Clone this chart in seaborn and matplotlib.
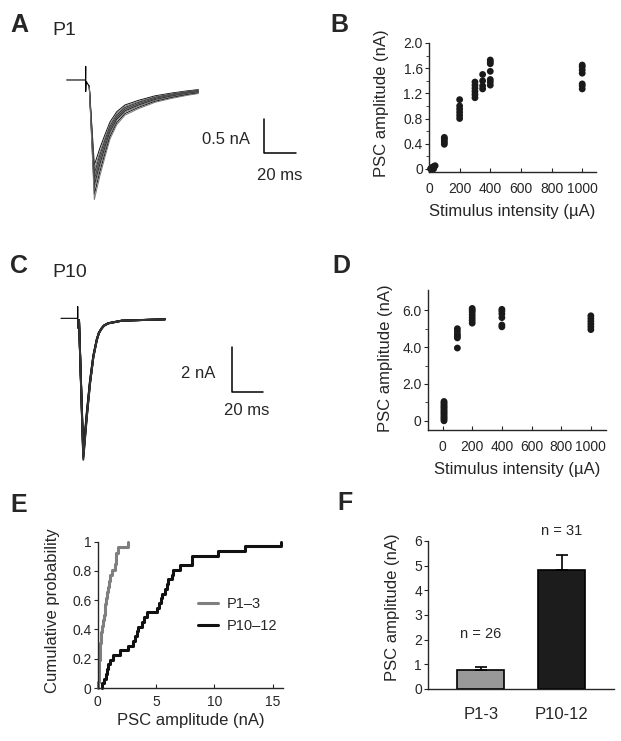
import numpy as np
import pandas as pd
import matplotlib.pyplot as plt
import seaborn as sns

sns.set_style("ticks")
plt.rcParams['font.family'] = ['Liberation Sans', 'DejaVu Sans']

# ---- A: P1 sweeps (ms, nA)
a_base_t = [-11.9, -0.1, 0.0, 0.0, 0.3, 1.6, 2.25]
a_base_i = [0.0, 0.0, 0.2, -0.17, -0.02, -0.07, -0.1]
a_resp_t = [2.25, 5.4, 8.9, 12.1, 15.2, 19.4, 24.6, 32.9, 43.3, 53.8, 64.1, 70.4]
a_resp_i = [-0.1, -1.5, -1.2, -0.96, -0.74, -0.56, -0.44, -0.36, -0.28, -0.23, -0.19, -0.17]
a_peaks = [-1.25, -1.32, -1.38, -1.42, -1.47, -1.5, -1.55, -1.6, -1.68, -1.76]

# ---- C: P10 sweeps
c_base_t = [-10.8, 0.0, 0.0, 0.0, 0.84]
c_base_i = [0.0, 0.0, 0.51, -0.44, -0.075]
c_resp_t = [0.84, 3.6, 5.8, 7.9, 10.1, 12.3, 13.7, 15.5, 17.0, 19.7, 28.4, 41.3, 56.3]
c_resp_i = [-0.075, -6.07, -4.32, -2.85, -1.68, -0.95, -0.64, -0.44, -0.32, -0.22, -0.105, -0.075, -0.044]
c_peaks = [-5.85, -5.95, -6.0, -6.07, -6.12, -6.2]

# ---- B: stimulus intensity (uA) vs PSC amplitude (nA), P1
b_x = [10, 15, 20, 25, 30, 35, 40, 20,
       100, 100, 100, 100, 100,
       200, 200, 200, 200, 200, 200,
       300, 300, 300, 300, 300, 300,
       350, 350, 350, 350,
       400, 400, 400, 400, 400, 400, 400,
       1000, 1000, 1000, 1000, 1000, 1000, 1000]
b_y = [0.0, 0.01, 0.02, 0.03, 0.0, 0.04, 0.05, 0.0,
       0.39, 0.42, 0.45, 0.48, 0.5,
       0.8, 0.85, 0.9, 0.95, 1.0, 1.1,
       1.13, 1.18, 1.23, 1.28, 1.33, 1.38,
       1.27, 1.32, 1.4, 1.5,
       1.33, 1.38, 1.42, 1.55, 1.67, 1.7, 1.73,
       1.27, 1.32, 1.35, 1.52, 1.57, 1.62, 1.65]

# ---- D: same for P10
d_x = [10] * 15 + [100] * 6 + [200] * 7 + [400] * 6 + [1000] * 6
d_y = [0.0, 0.08, 0.15, 0.22, 0.3, 0.38, 0.45, 0.52, 0.6, 0.68, 0.75, 0.82, 0.9, 0.98, 1.05,
       3.95, 4.5, 4.6, 4.7, 4.85, 5.0,
       5.3, 5.45, 5.6, 5.75, 5.9, 6.0, 6.1,
       5.1, 5.2, 5.6, 5.8, 5.95, 6.05,
       4.95, 5.1, 5.25, 5.4, 5.55, 5.7]

# ---- E: PSC amplitudes per cell (nA)
e_p1_3 = [0.05, 0.08, 0.1, 0.13, 0.15, 0.18, 0.2, 0.22, 0.26, 0.3,
          0.35, 0.45, 0.5, 0.6, 0.65, 0.7, 0.8, 0.85, 0.95, 1.05,
          1.2, 1.5, 1.55, 1.6, 1.7, 2.6]
e_p10_12 = [0.35, 0.5, 0.7, 0.8, 0.9, 1.05, 1.35, 1.9, 2.6, 3.05,
            3.2, 3.35, 3.5, 3.8, 3.95, 4.2, 5.1, 5.25, 5.4, 5.5,
            5.8, 5.95, 6.05, 6.35, 6.5, 7.05, 8.05, 8.1, 10.3, 12.6, 15.7]

# ---- F: mean +- SEM
f_groups = ['P1-3', 'P10-12']
f_means = [0.78, 4.82]
f_sems = [0.1, 0.6]
f_n = ['n = 26', 'n = 31']

W, H = 621, 741
fig = plt.figure(figsize=(W / 100, H / 100), dpi=100)


def px_axes(l, t, r, b):
    return fig.add_axes([l / W, 1 - b / H, (r - l) / W, (b - t) / H])


tick_fs = 10
lab_fs = 12

# panel letters and titles
for letter, x, y in [('A', 10, 32), ('B', 330, 32), ('C', 10, 273),
                     ('D', 332, 273), ('E', 10, 512), ('F', 337, 510)]:
    fig.text(x / W, 1 - y / H, letter, fontsize=18, fontweight='bold', va='baseline')
fig.text(52 / W, 1 - 35 / H, 'P1', fontsize=14, va='baseline')
fig.text(52 / W, 1 - 277 / H, 'P10', fontsize=14, va='baseline')

# A traces
axA = px_axes(60, 50, 310, 210)
axA.set_xlim(-16.06, 140.19)
axA.set_ylim(-1.912, 0.441)
axA.axis('off')
axA.plot(a_base_t, a_base_i, color='k', lw=0.8)
for k, pk in enumerate(a_peaks):
    sc = pk / a_resp_i[1]
    axA.plot(a_resp_t, np.array(a_resp_i) * sc, color=['#111111', '#777777'][k % 2], lw=0.7)
axA.plot([111.4, 111.4, 131.4], [-0.574, -1.074, -1.074], color='k', lw=1.1)
axA.text(102.8, -0.88, '0.5 nA', ha='right', va='center', fontsize=12)
axA.text(121.4, -1.40, '20 ms', ha='center', va='center', fontsize=12)

# C traces
axC = px_axes(55, 280, 310, 465)
axC.set_xlim(-14.65, 149.87)
axC.set_ylim(-6.43, 1.68)
axC.axis('off')
axC.plot(c_base_t, c_base_i, color='k', lw=0.8)
for k, pk in enumerate(c_peaks):
    sc = pk / c_resp_i[1]
    axC.plot(c_resp_t, np.array(c_resp_i) * sc, color=['#111111', '#333333'][k % 2], lw=1.4)
axC.plot([99.7, 99.7, 119.7], [-1.246, -3.246, -3.246], color='k', lw=1.1)
axC.text(88.6, -2.41, '2 nA', ha='right', va='center', fontsize=12)
axC.text(109, -4.02, '20 ms', ha='center', va='center', fontsize=12)


def style_axes(ax):
    sns.despine(ax=ax)
    ax.tick_params(axis='x', direction='in', length=3, pad=7, labelsize=tick_fs)
    ax.tick_params(axis='y', which='both', direction='out', length=3, pad=1.5, labelsize=tick_fs)
    ax.tick_params(axis='y', which='minor', length=2)
    for s in ['left', 'bottom']:
        ax.spines[s].set_linewidth(1.0)


# B scatter
axB = px_axes(429, 43, 596, 172)
dfB = pd.DataFrame({'stim': b_x, 'amp': b_y})
sns.scatterplot(data=dfB, x='stim', y='amp', ax=axB, color='#1a1a1a', s=24,
                edgecolor='none', clip_on=False)
axB.set_xlim(0, 1090)
axB.set_ylim(-0.05, 2.0)
axB.set_xticks([0, 200, 400, 600, 800, 1000])
axB.set_yticks([0, 0.4, 0.8, 1.2, 1.6, 2.0])
axB.set_yticklabels(['0', '0.4', '0.8', '1.2', '1.6', '2.0'])
axB.set_yticks([0.2, 0.6, 1.0, 1.4, 1.8], minor=True)
style_axes(axB)
axB.set_xlabel('Stimulus intensity (µA)', fontsize=lab_fs)
axB.set_ylabel('PSC amplitude (nA)', fontsize=lab_fs)
axB.xaxis.set_label_coords(0.5, -0.25)
axB.yaxis.set_label_coords(-0.24, 0.53)

# D scatter
axD = px_axes(427.7, 290, 605.7, 430)
dfD = pd.DataFrame({'stim': d_x, 'amp': d_y})
sns.scatterplot(data=dfD, x='stim', y='amp', ax=axD, color='#1a1a1a', s=24,
                edgecolor='none', clip_on=False)
axD.set_xlim(-100, 1100)
axD.set_ylim(-0.5, 7.1)
axD.set_xticks([0, 200, 400, 600, 800, 1000])
axD.set_yticks([0, 2, 4, 6])
axD.set_yticklabels(['0', '2.0', '4.0', '6.0'])
axD.set_yticks([1, 3, 5], minor=True)
style_axes(axD)
axD.set_xlabel('Stimulus intensity (µA)', fontsize=lab_fs)
axD.set_ylabel('PSC amplitude (nA)', fontsize=lab_fs)
axD.xaxis.set_label_coords(0.5, -0.23)
axD.yaxis.set_label_coords(-0.193, 0.51)

# E cumulative
axE = px_axes(97.7, 541.7, 283, 688)
sns.ecdfplot(x=e_p1_3, ax=axE, color='#7f7f7f', lw=2.2, label='P1–3')
sns.ecdfplot(x=e_p10_12, ax=axE, color='#111111', lw=2.2, label='P10–12')
for ln in axE.lines:
    ln.set_clip_on(False)
axE.set_xlim(0, 15.9)
axE.set_ylim(0, 1)
axE.set_xticks([0, 5, 10, 15])
axE.set_yticks([0, 0.2, 0.4, 0.6, 0.8, 1.0])
axE.set_yticklabels(['0', '0.2', '0.4', '0.6', '0.8', '1'])
style_axes(axE)
axE.tick_params(axis='x', pad=5)
axE.set_xlabel('PSC amplitude (nA)', fontsize=lab_fs)
axE.set_ylabel('Cumulative probability', fontsize=lab_fs)
axE.xaxis.set_label_coords(0.5, -0.17)
axE.yaxis.set_label_coords(-0.203, 0.53)
axE.legend(loc='center left', bbox_to_anchor=(0.47, 0.5), frameon=False,
           fontsize=10.5, handlelength=1.4, handletextpad=0.6, labelspacing=0.55)

# F bars
axF = px_axes(428.3, 541, 614, 689)
dfF = pd.DataFrame({'group': f_groups, 'mean': f_means})
sns.barplot(data=dfF, x='group', y='mean', hue='group', palette=['#999999', '#1c1c1c'],
            edgecolor='black', linewidth=1.2, width=0.58, ax=axF, legend=False)
axF.errorbar([0, 1], f_means, yerr=[[0, 0], f_sems], fmt='none', ecolor='black',
             elinewidth=1.2, capsize=4, capthick=1.2)
for i, (m, s, lab) in enumerate(zip(f_means, f_sems, f_n)):
    axF.text(i, m + s + (1.07 if i == 0 else 0.7), lab, ha='center', va='bottom',
             fontsize=10.5, clip_on=False)
axF.set_xlim(-0.65, 1.65)
axF.set_ylim(0, 6)
axF.set_yticks(range(7))
style_axes(axF)
axF.tick_params(axis='x', length=0, pad=13, labelsize=12)
axF.set_xlabel('')
axF.set_ylabel('PSC amplitude (nA)', fontsize=lab_fs)
axF.yaxis.set_label_coords(-0.152, 0.55)

fig.savefig('out.png', dpi=100)
